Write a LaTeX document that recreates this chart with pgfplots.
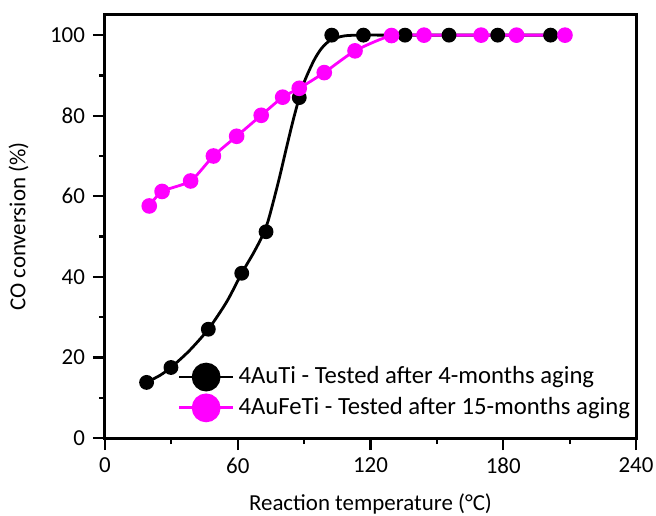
\documentclass[border=0pt]{standalone}
\usepackage{pgfplots}
\pgfplotsset{compat=1.18}
\usepackage{fontspec}
\setmainfont{Carlito}
\definecolor{mag}{RGB}{255,0,255}
\begin{document}
\fontsize{11.5}{13}\selectfont
\begin{tikzpicture}
\begin{axis}[
  scale only axis, width=265.5bp, height=211.5bp,
  xmin=0, xmax=240, ymin=0, ymax=105,
  xtick={0,60,120,180,240}, minor xtick={30,90,150,210},
  ytick={0,20,40,60,80,100}, minor ytick={10,30,50,70,90},
  tick align=outside, tick pos=left,
  major tick length=6bp, minor tick length=3bp,
  every tick/.style={black, line width=1.1bp},
  axis line style={line width=1.5bp},
  /pgf/number format/assume math mode=true,
  tick label style={font=\fontsize{11.5}{13}\selectfont},
  label style={font=\fontsize{11.5}{13}\selectfont},
  xlabel={Reaction temperature (°C)},
  ylabel={CO conversion (\%)},
  xlabel style={yshift=-2bp},
  ylabel style={yshift=3bp},
  legend cell align=left,
  legend style={draw=none, fill=none, at={(axis cs:30,11.3)}, anchor=west,
    row sep=1bp, font=\fontsize{12.4}{14}\selectfont},
  legend image code/.code={
    \draw[#1, mark=none] (0bp,0bp) -- (27bp,0bp);
    \fill[#1, mark=none] (13.5bp,0bp) circle (6.5bp);
  },
]
% fitted curve for 4AuTi
\addplot[black, line width=1.4bp, smooth, tension=0.45, forget plot] coordinates {
 (18.8,13.8) (25,15.6) (30,17.6) (38,21.6) (46.7,27) (55,33.8) (61.8,40.9)
 (67,45.8) (71,50) (73.5,53.5) (76,58.5) (79,65) (82,72) (85,78.8) (87.8,84.5)
 (90,88.3) (92.5,91.5) (95,94.3) (98,96.8) (102,98.8) (108,99.8) (116,100) (136,100) (201.4,100)};
\addplot[only marks, mark=*, mark size=3bp, black, line width=1.4bp] coordinates {
 (18.8,13.8) (29.8,17.5) (46.7,27.0) (61.8,40.9) (72.8,51.2) (87.8,84.5)
 (102.5,100) (116.8,100) (135.6,100) (155.5,100) (177.5,100) (201.4,100)};
\addlegendentry{4AuTi - Tested after 4-months aging}
\addplot[mag, line width=1.4bp, smooth, tension=0.4, mark=*, mark size=3.2bp,
  mark options={fill=mag, draw=mag}] coordinates {
 (20.0,57.6) (25.8,61.2) (38.7,63.8) (49.0,70.0) (59.5,74.9) (70.6,80.1)
 (80.3,84.6) (87.8,86.8) (99.1,90.7) (113,96.1) (129.5,99.9) (144.2,100)
 (170,100) (186,100) (207.9,100)};
\addlegendentry{4AuFeTi - Tested after 15-months aging}
\end{axis}
\pgfresetboundingbox
\path[use as bounding box] ([xshift=-52.5bp, yshift=-39bp]current axis.south west)
  rectangle ([xshift=10bp, yshift=7.5bp]current axis.north east);
\end{tikzpicture}
\end{document}
